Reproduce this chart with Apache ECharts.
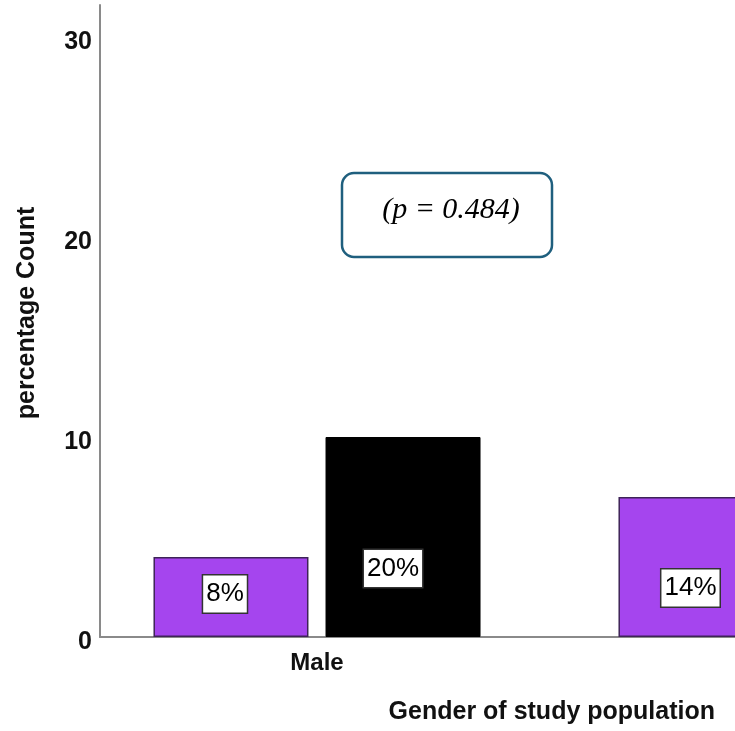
<!DOCTYPE html>
<html><head><meta charset="utf-8">
<script src="https://cdn.jsdelivr.net/npm/echarts@6/dist/echarts.min.js"></script>
<style>html,body{margin:0;padding:0;background:#fff}#c{width:735px;height:731px}</style>
</head><body><div id="c"></div>
<script>
// ---- data ----
const categories = ['Male', 'Female'];
const seriesNames = ['Group 1', 'Group 2'];
const purpleCounts = [4, 7];
const blackCounts = [10, 29];
const purpleLabels = ['8%', '14%'];
const blackLabels = ['20%', '58%'];
const yTicks = [0, 10, 20, 30];
const pValueText = '(p = 0.484)';
const xAxisTitle = 'Gender of study population';
const yAxisTitle = 'percentage Count';

// ---- layout / style (not data) ----
const purpleLabelOffsets = [[-6, -3], [-5.5, 21]];
const blackLabelOffsets = [[-10, 31.5], [0, 0]];
const gridLeft = 100, gridTop = 5, gridHeight = 632, gridWidth = 635;
const firstCenterPx = 317, bandPx = 465;
const xMin = (gridLeft - firstCenterPx) / bandPx;
const xMax = xMin + gridWidth / bandPx;
const yMax = gridHeight / 20;
const FONT = 'Liberation Sans, Arial, sans-serif';

function labelStyle(offset, text) {
  return {
    show: true, position: 'inside', offset: offset, formatter: text,
    backgroundColor: '#fff', borderColor: '#333', borderWidth: 1.5,
    padding: [4, 3, 3, 3], lineHeight: 30,
    fontSize: 26, color: '#000', fontFamily: FONT
  };
}
function buildData(values, labels, offsets) {
  return values.map((v, i) => ({ value: [i, v], label: labelStyle(offsets[i], labels[i]) }));
}

const chart = echarts.init(document.getElementById('c'), null, { renderer: 'canvas' });
chart.setOption({
  animation: false,
  backgroundColor: '#fff',
  grid: { left: gridLeft, top: gridTop, width: gridWidth, height: gridHeight, containLabel: false },
  xAxis: {
    type: 'value', min: xMin, max: xMax,
    axisLine: { show: true, onZero: false, lineStyle: { color: '#8a8a8a', width: 2 } },
    axisTick: { show: false },
    splitLine: { show: false },
    axisLabel: {
      customValues: categories.map((c, i) => i),
      formatter: v => categories[Math.round(v)],
      margin: 14, fontSize: 24, fontWeight: 'bold', color: '#111', fontFamily: FONT
    }
  },
  yAxis: {
    type: 'value', min: yTicks[0], max: yMax, interval: yTicks[1] - yTicks[0],
    name: yAxisTitle, nameLocation: 'middle', nameGap: 60, nameRotate: 90,
    nameTextStyle: { fontSize: 25, fontWeight: 'bold', color: '#111', fontFamily: FONT, padding: [0, 0, 0, 16] },
    axisLine: { show: true, onZero: false, lineStyle: { color: '#8a8a8a', width: 2 } },
    axisTick: { show: false },
    splitLine: { show: false },
    axisLabel: {
      showMaxLabel: false, margin: 8,
      fontSize: 25, fontWeight: 'bold', color: '#111', fontFamily: FONT,
      formatter: v => (yTicks.indexOf(v) >= 0 ? '{t|' + v + '}' : ''),
      rich: { t: { fontSize: 25, fontWeight: 'bold', color: '#111', fontFamily: FONT, padding: [11, 0, 0, 0] } }
    }
  },
  series: [
    {
      name: seriesNames[0], type: 'bar', barWidth: 155, barGap: '11%', clip: true,
      itemStyle: { color: '#a545ee', borderColor: '#3e2358', borderWidth: 1.5 },
      data: buildData(purpleCounts, purpleLabels, purpleLabelOffsets)
    },
    {
      name: seriesNames[1], type: 'bar', barWidth: 155, barGap: '11%', clip: true,
      itemStyle: { color: '#000', borderColor: '#000', borderWidth: 1 },
      data: buildData(blackCounts, blackLabels, blackLabelOffsets)
    }
  ],
  graphic: [
    {
      type: 'rect', shape: { x: 342, y: 173, width: 210, height: 84, r: 12 },
      style: { fill: '#fff', stroke: '#1f5f7e', lineWidth: 2.5 }, z: 10
    },
    {
      type: 'text', x: 451, y: 210, z: 11,
      style: { text: pValueText, font: 'italic 30px "Liberation Serif", "Times New Roman", serif',
               fill: '#000', align: 'center', verticalAlign: 'middle' }
    },
    {
      type: 'text', x: 715, y: 712, z: 11,
      style: { text: xAxisTitle, font: 'bold 25px "Liberation Sans", Arial, sans-serif',
               fill: '#111', align: 'right', verticalAlign: 'middle' }
    }
  ]
});
</script></body></html>
